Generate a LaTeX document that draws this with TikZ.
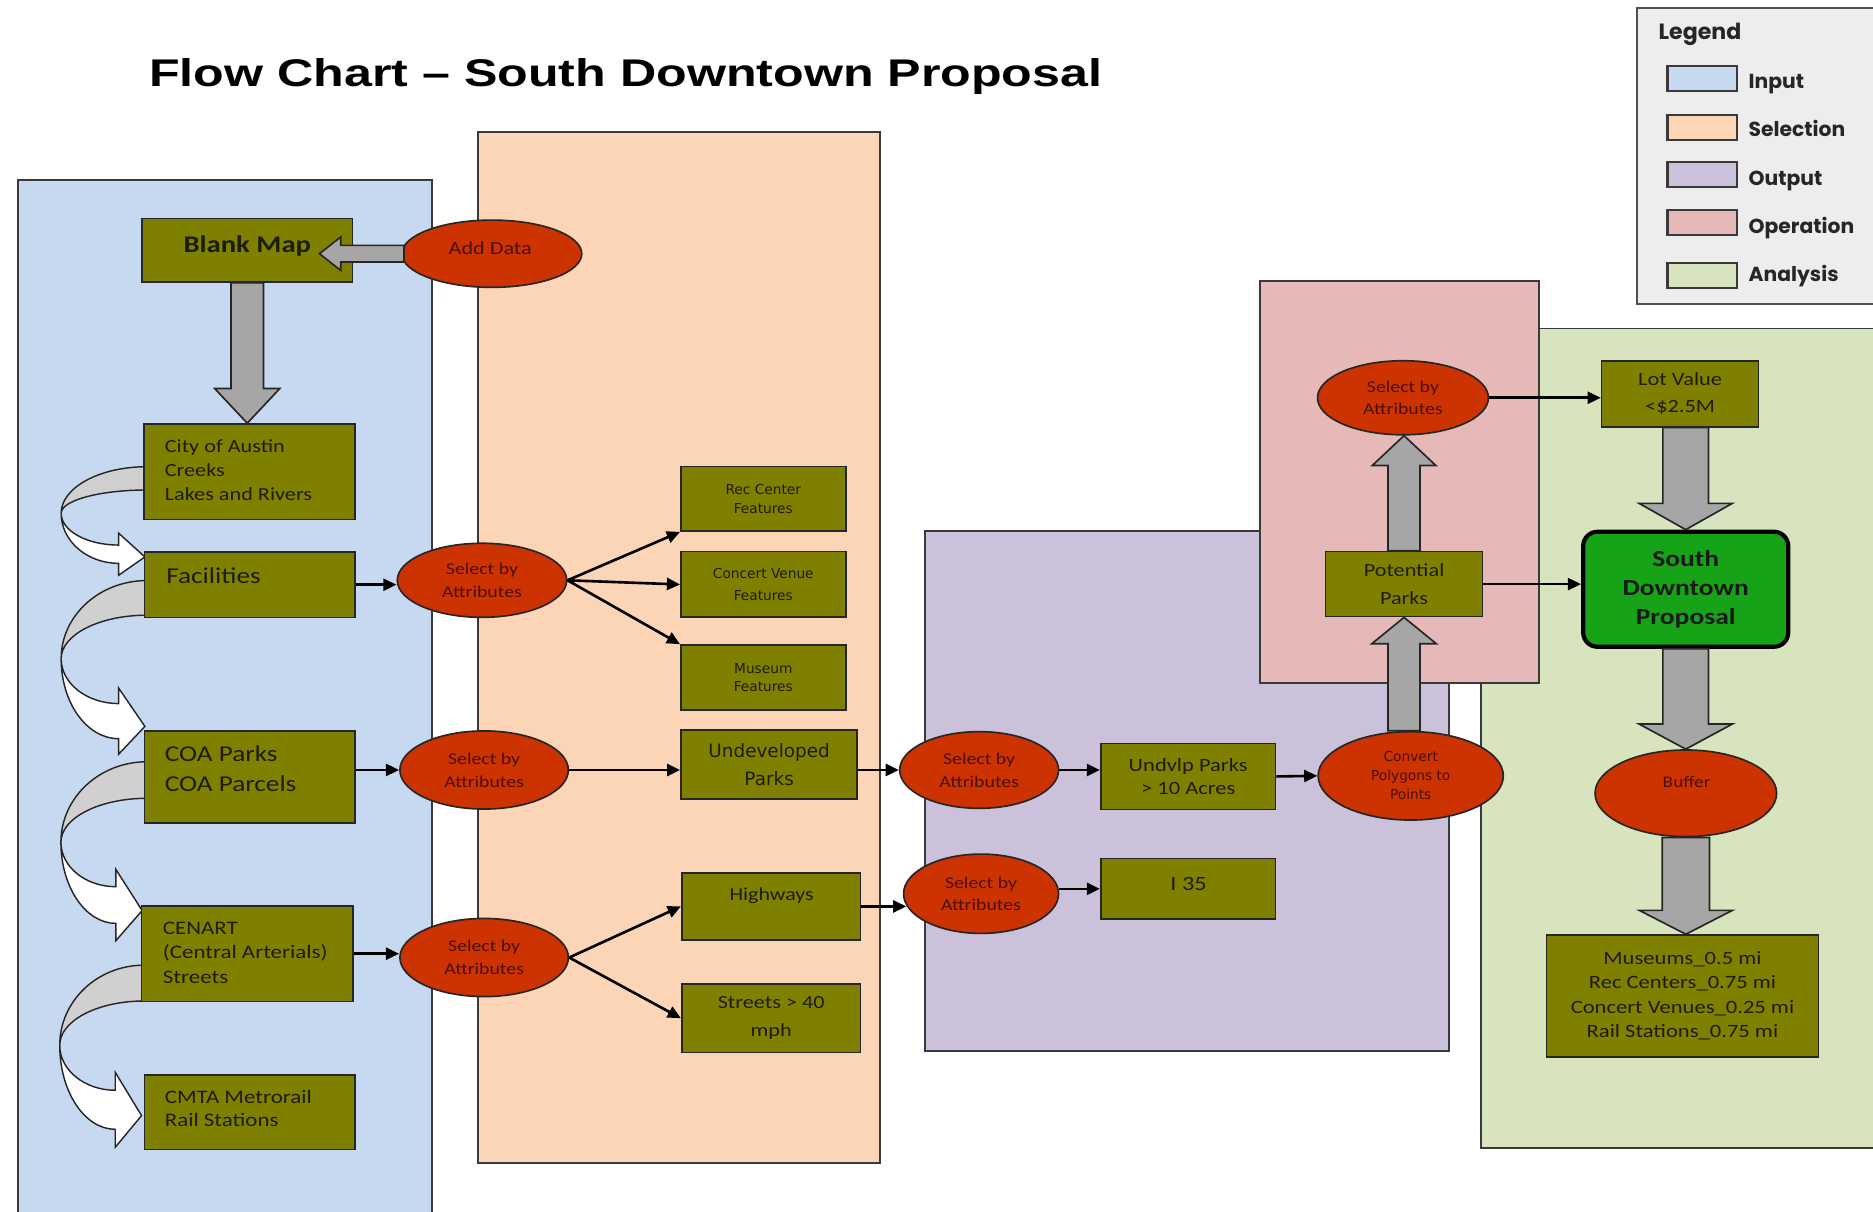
\documentclass[tikz,border=0pt]{standalone}
\usepackage{fontspec}
\setmainfont{Carlito}[FakeStretch=1.2]
\newfontfamily\titlefont{Liberation Sans}[FakeStretch=1.3]
\newfontfamily\legfont{Poppins}
\newfontfamily\dvfont{DejaVu Sans}
\usetikzlibrary{arrows.meta,calc,shapes.geometric}

\definecolor{inblue}{HTML}{C6D9F0}
\definecolor{selpeach}{HTML}{FBD5B5}
\definecolor{outlav}{HTML}{CCC1DA}
\definecolor{oppink}{HTML}{E6B9B8}
\definecolor{angreen}{HTML}{D7E4BD}
\definecolor{olivebox}{HTML}{808000}
\definecolor{opred}{HTML}{CC3300}
\definecolor{optext}{HTML}{4A0F08}
\definecolor{boxtext}{HTML}{1C1C00}
\definecolor{sdgreen}{HTML}{17A317}
\definecolor{arrgray}{HTML}{A6A6A6}
\definecolor{backgray}{HTML}{D0D0D0}
\definecolor{leggray}{HTML}{EDEDED}
\definecolor{edge}{HTML}{3A3A3A}
\definecolor{boxedge}{HTML}{262626}
\definecolor{legedge}{HTML}{505050}

\newcommand{\fsz}[2]{\fontsize{#1pt}{#2pt}\selectfont}

\tikzset{
  panel/.style={draw=edge, line width=1.6pt},
  sz/.style 2 args={minimum width=#1pt, minimum height=#2pt},
  box/.style={draw=boxedge, fill=olivebox, line width=1.4pt, inner sep=0pt, text=boxtext, align=center},
  op/.style={ellipse, draw=boxedge, fill=opred, line width=1.4pt, inner sep=0pt, text=optext, align=center, font=\fsz{13.8}{19}},
  txt/.style={inner sep=0pt, text=boxtext, align=left},
  conn/.style={line width=2.2pt, draw=black, -{Triangle[length=11pt,width=10pt]}},
  garrow/.style={draw=boxedge, fill=arrgray, line width=1.4pt},
  backband/.style={draw=black!85, fill=backgray, line width=1.2pt},
  frontband/.style={draw=black!85, fill=white, line width=1.2pt},
  swatch/.style={draw=edge, line width=1.8pt, minimum width=58pt, minimum height=21pt, inner sep=0pt},
  legtxt/.style={anchor=base west, inner sep=0pt, font=\legfont\bfseries\fsz{17}{20}, text=black!85},
}

% curved (U-turn) arrow: xb, yTop1, yTop2, xLeft, yMid, xHead, yUpper, yLower, headExtra
\newcommand{\curvarr}[9]{%
  \draw[backband] (#1,#2) .. controls ({#1-0.5523*(#1-#4)},#2) and (#4,{#5-0.5523*(#5-#2)}) .. (#4,#5)
     .. controls (#4,{#5-0.5523*(#5-#3)}) and ({#1-0.5523*(#1-#4)},#3) .. (#1,#3) -- cycle;
  \draw[frontband] (#4,#5) .. controls (#4,{#5+0.5523*(#8-#5)}) and ({#6-0.5523*(#6-#4)},#8) .. (#6,#8)
     -- (#6,{#8+#9}) -- ({#6+22},{(#7+#8)/2+0.15*(#8-#7)}) -- (#6,{#7-#9}) -- (#6,#7)
     .. controls ({#6-0.5523*(#6-#4)},#7) and (#4,{#5+0.5523*(#7-#5)}) .. (#4,#5) -- cycle;
}
% block arrows: start, tip, shaft half width, head half width, head length
\newcommand{\garrowdown}[5]{\draw[garrow] let \p1=#1, \p2=#2 in
  (\x1-#3pt,\y1) -- (\x1-#3pt,\y2+#5pt) -- (\x1-#4pt,\y2+#5pt) -- (\x1,\y2)
  -- (\x1+#4pt,\y2+#5pt) -- (\x1+#3pt,\y2+#5pt) -- (\x1+#3pt,\y1) -- cycle;}
\newcommand{\garrowup}[5]{\draw[garrow] let \p1=#1, \p2=#2 in
  (\x1-#3pt,\y1) -- (\x1-#3pt,\y2-#5pt) -- (\x1-#4pt,\y2-#5pt) -- (\x1,\y2)
  -- (\x1+#4pt,\y2-#5pt) -- (\x1+#3pt,\y2-#5pt) -- (\x1+#3pt,\y1) -- cycle;}
\newcommand{\garrowleft}[5]{\draw[garrow] let \p1=#1, \p2=#2 in
  (\x1,\y1-#3pt) -- (\x2+#5pt,\y1-#3pt) -- (\x2+#5pt,\y1-#4pt) -- (\x2,\y1)
  -- (\x2+#5pt,\y1+#4pt) -- (\x2+#5pt,\y1+#3pt) -- (\x1,\y1+#3pt) -- cycle;}

\begin{document}
\begin{tikzpicture}[x=1pt,y=-1pt]
\useasboundingbox (0,0) rectangle (1568,1014);
\clip (0,0) rectangle (1568,1014);
\fill[white] (0,0) rectangle (1568,1014);

% ---------- panels ----------
\draw[panel, fill=inblue] (15,151) rectangle (362,1030);
\draw[panel, fill=selpeach] (400,110.5) rectangle (737,973.6);
\draw[panel, fill=outlav] (774.5,444.5) rectangle (1212.7,880);
\draw[panel, fill=angreen] (1240,275) rectangle (1590,961);
\draw[panel, fill=oppink] (1054.5,235) rectangle (1288.6,571.5);

% ---------- title ----------
\node[anchor=base west, inner sep=0pt, font=\titlefont\bfseries\fsz{32.3}{38}] (title) at (124.8,72)
  {Flow Chart – South Downtown Proposal};

% ---------- legend ----------
\draw[draw=legedge, fill=leggray, line width=1.8pt] (1370.5,6.5) rectangle (1590,254.5);
\node[anchor=base west, inner sep=0pt, font=\legfont\bfseries\fsz{18.5}{22}, text=black!85] (legT) at (1388.3,32.7) {Legend};
\node[swatch, fill=inblue] (swIn) at (1425,66) {};
\node[swatch, fill=selpeach] (swSel) at (1425,106.5) {};
\node[swatch, fill=outlav] (swOut) at (1425,146) {};
\node[swatch, fill=oppink] (swOp) at (1425,186.5) {};
\node[swatch, fill=angreen] (swAn) at (1425,230.5) {};
\node[legtxt] (lIn) at (1463.7,74) {Input};
\node[legtxt] (lSel) at (1463.7,114.4) {Selection};
\node[legtxt] (lOut) at (1463.7,154.9) {Output};
\node[legtxt] (lOp) at (1463.7,195.3) {Operation};
\node[legtxt] (lAn) at (1463.7,235.8) {Analysis};

% ---------- curved arrows in input column ----------
\curvarr{123}{390.7}{410.2}{51.2}{429.7}{99.3}{456.3}{471.6}{10}
\curvarr{123}{486}{515}{51.2}{551.4}{99.3}{589}{618.4}{13}
\curvarr{123}{637.7}{668.3}{51}{705}{97}{742.3}{773}{14.5}
\curvarr{120.5}{808}{838}{50}{875}{96.5}{912.7}{945.4}{15}

% ---------- input boxes ----------
\node[box, sz={176}{53}] (bm) at (207,209.5) {};
\node[box, sz={176.8}{79.8}] (city) at (208.9,394.9) {};
\node[box, sz={176.2}{55}] (fac) at (209.1,489.5) {};
\node[box, sz={176.2}{77}] (coa) at (209.2,650.2) {};
\node[box, sz={177}{80}] (cen) at (207,798.4) {};
\node[box, sz={176.3}{62.6}] (cmta) at (209.1,931) {};

\node[txt, anchor=base, font=\bfseries\fsz{20}{24}] (bmT) at (207,211) {Blank Map};
\node[txt, anchor=north west, font=\fsz{15.5}{20.2}] (cityT) at (137.8,367.5) {City of Austin\\Creeks\\Lakes and Rivers};
\node[txt, anchor=base west, font=\fsz{19}{23}] (facT) at (139,488.3) {Facilities};
\node[txt, anchor=north west, font=\fsz{19}{24.8}] (coaT) at (137.8,624.4) {COA Parks\\COA Parcels};
\node[txt, anchor=north west, font=\fsz{16}{20.4}] (cenT) at (136.2,771.8) {CENART\\(Central Arterials)\\Streets};
\node[txt, anchor=north west, font=\fsz{16}{19.8}] (cmtaT) at (137.8,912.2) {CMTA Metrorail\\Rail Stations};

% ---------- selection column ----------
\node[op, sz={150.6}{56.3}] (add) at (411.7,212.4) {};
\node[inner sep=0pt, text=optext, anchor=base, font=\fsz{15.5}{18}] (addT) at (410.4,212.7) {Add Data};
\node[op, sz={141.8}{62}] (sel1) at (403.5,485.8) {Select by\\Attributes};
\node[op, sz={141}{65.4}] (sel2) at (405.3,644.6) {Select by\\Attributes};
\node[op, sz={141}{65.4}] (sel3) at (405.3,801.6) {Select by\\Attributes};

\node[box, sz={138}{54}, font=\dvfont\fsz{11.5}{15.5}] (rec) at (639,417.6) {Rec Center\\Features};
\node[box, sz={138}{55}, font=\dvfont\fsz{11.5}{18}] (con) at (639,489.3) {Concert Venue\\Features};
\node[box, sz={138}{54.4}, font=\dvfont\fsz{11.5}{15.5}] (mus) at (639,567.2) {Museum\\Features};
\node[box, sz={147.6}{58}, font=\dvfont\fsz{15.4}{23}] (und) at (643.9,640) {Undeveloped\\Parks};
\node[box, sz={149.8}{56.4}] (hwy) at (645.6,758.8) {};
\node[txt, anchor=base, font=\fsz{15.3}{18}] (hwyT) at (646,753.5) {Highways};
\node[box, sz={149.8}{57.2}, font=\fsz{15.5}{23.6}] (str) at (645.6,852.4) {Streets > 40\\mph};

% ---------- output column ----------
\node[op, sz={133}{64.2}] (sel4) at (819.7,644.6) {Select by\\Attributes};
\node[op, sz={129.7}{66.4}] (sel5) at (821.3,748.2) {Select by\\Attributes};
\node[box, sz={146.4}{55.3}, font=\fsz{15.7}{19}] (undvlp) at (994.7,650) {Undvlp Parks\\> 10 Acres};
\node[box, sz={146.4}{51}] (i35) at (994.7,744.1) {};
\node[txt, anchor=base, font=\fsz{17}{20}] (i35T) at (995,745.6) {I 35};
\node[op, sz={155}{74}, font=\dvfont\fsz{11.5}{16}] (conv) at (1181,649.5) {Convert\\Polygons to\\Points};

% ---------- operation / analysis ----------
\node[box, sz={131.3}{54.4}, font=\fsz{15.5}{23.7}] (pp) at (1175.4,489) {Potential\\Parks};
\node[op, sz={143}{62}] (sel6) at (1174.5,333) {Select by\\Attributes};
\node[box, sz={131.4}{55.2}, font=\fsz{15.6}{22.3}] (lot) at (1406.5,329.6) {Lot Value\\<\$2.5M};
\node[box, rounded corners=12pt, fill=sdgreen, draw=black, line width=3.5pt, text=black!90,
      font=\bfseries\fsz{19.2}{24.4}, sz={171.7}{96.3}] (sd) at (1411.2,493.3) {South\\Downtown\\Proposal};
\node[op, sz={152}{72.5}] (buf) at (1411.3,664.1) {};
\node[inner sep=0pt, text=optext, anchor=base, font=\fsz{13.5}{16}] (bufT) at (1412,659.1) {Buffer};
\node[box, sz={227.5}{101.8}, font=\fsz{15.75}{20.5}] (res) at (1408.5,833.7)
  {Museums\_0.5 mi\\Rec Centers\_0.75 mi\\Concert Venues\_0.25 mi\\Rail Stations\_0.75 mi};

% ---------- gray block arrows ----------
\coordinate (bmtip) at (267.5,212.4);
\garrowleft{([xshift=2.5pt]add.west)}{(bmtip)}{7}{14}{17.7}
\garrowdown{(bm.south)}{(city.north)}{13.6}{27.2}{29}
\garrowup{(pp.south |- conv.north)}{(pp.south)}{13.4}{27}{22}
\garrowup{(pp.north)}{(sel6.south)}{13.4}{26.6}{25}
\garrowdown{(sd.north |- lot.south)}{(sd.north)}{19.1}{39}{22}
\garrowdown{(sd.south)}{(buf.north)}{19.1}{39}{21}
\garrowdown{(buf.south)}{(res.north)}{19.8}{39}{20}

% ---------- thin connectors ----------
\draw[conn] (fac.east) -- (fac.east -| sel1.west);
\draw[conn] (sel2.west -| coa.east) -- (sel2.west);
\draw[conn] (cen.east) -- (cen.east -| sel3.west);
\draw[conn] (sel1.east) -- (rec.south west);
\draw[conn] (sel1.east) -- (con.west);
\draw[conn] (sel1.east) -- (mus.north west);
\draw[conn] (sel2.east) -- (sel2.east -| und.west);
\draw[conn] (sel3.east) -- (hwy.west);
\draw[conn] (sel3.east) -- (str.west);
\draw[conn] (sel4.west -| und.east) -- (sel4.west);
\draw[conn] (sel4.east) -- (sel4.east -| undvlp.west);
\draw[conn] (undvlp.east) -- (conv.west);
\draw[conn] (hwy.east) -- ([xshift=3pt]hwy.east -| sel5.west);
\draw[conn] (i35.west -| sel5.east) -- (i35.west);
\draw[conn] (sel6.east) -- (sel6.east -| lot.west);
\draw[conn] (pp.east) -- (pp.east -| sd.west);
\end{tikzpicture}
\end{document}
